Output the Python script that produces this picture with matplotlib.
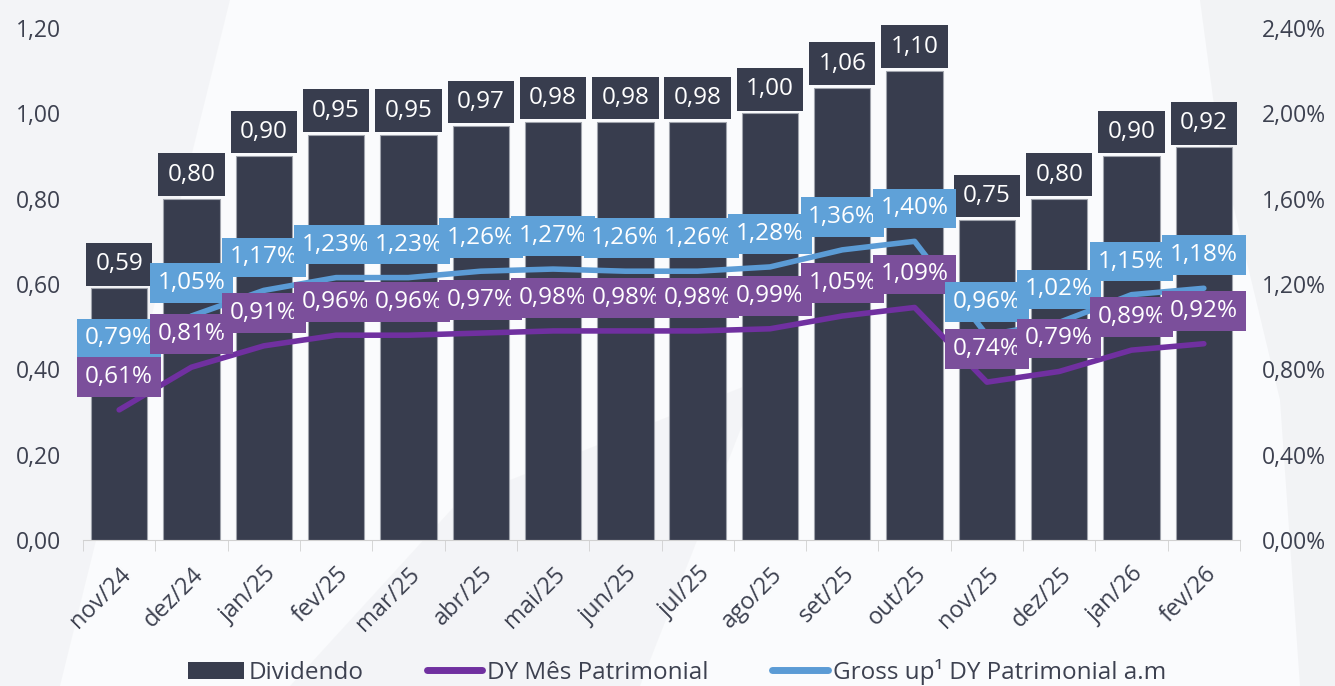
import matplotlib
matplotlib.use('Agg')
import matplotlib.pyplot as plt
from matplotlib.patches import Patch, Polygon
from matplotlib.lines import Line2D
from matplotlib.ticker import FuncFormatter

meses = ['nov/24', 'dez/24', 'jan/25', 'fev/25', 'mar/25', 'abr/25', 'mai/25', 'jun/25',
         'jul/25', 'ago/25', 'set/25', 'out/25', 'nov/25', 'dez/25', 'jan/26', 'fev/26']
dividendo = [0.59, 0.80, 0.90, 0.95, 0.95, 0.97, 0.98, 0.98, 0.98, 1.00, 1.06, 1.10, 0.75, 0.80, 0.90, 0.92]
dy_mes = [0.61, 0.81, 0.91, 0.96, 0.96, 0.97, 0.98, 0.98, 0.98, 0.99, 1.05, 1.09, 0.74, 0.79, 0.89, 0.92]
gross_up = [0.79, 1.05, 1.17, 1.23, 1.23, 1.26, 1.27, 1.26, 1.26, 1.28, 1.36, 1.40, 0.96, 1.02, 1.15, 1.18]

BAR = '#383d4e'
PURPLE = '#7030a0'
PURPLE_BOX = '#7b4f9b'
BLUE = '#5b9bd5'
BLUE_BOX = '#5fa1d8'
TXT = '#3d4150'

plt.rcParams['font.family'] = ['Open Sans', 'DejaVu Sans']

fig = plt.figure(figsize=(13.35, 6.86), dpi=100)
fig.patch.set_facecolor('#fafbfd')

# faint background swooshes
bg = fig.add_axes([0, 0, 1, 1], zorder=-10)
bg.set_xlim(0, 1335); bg.set_ylim(686, 0); bg.axis('off')
for pts, a in [([(0, 0), (230, 0), (60, 686), (0, 686)], 0.3),
               ([(290, 686), (460, 500), (760, 380), (640, 686)], 0.3),
               ([(1200, 0), (1335, 0), (1335, 686), (1300, 686), (1280, 400), (1220, 150)], 0.4)]:
    bg.add_patch(Polygon(pts, closed=True, facecolor='#e6e7ea', edgecolor='none', alpha=a))

ax = fig.add_axes([83 / 1335, 146 / 686, 1157 / 1335, 512 / 686])
ax.patch.set_alpha(0)
x = list(range(len(meses)))

ax.bar(x, dividendo, width=0.78, color=BAR, edgecolor='#a0a4ad', linewidth=0.8, zorder=2)
ax.set_xlim(-0.5, len(meses) - 0.5)
ax.set_ylim(0, 1.2)
ax.set_yticks([0, 0.2, 0.4, 0.6, 0.8, 1.0, 1.2])
ax.yaxis.set_major_formatter(FuncFormatter(lambda v, p: f'{v:.2f}'.replace('.', ',')))
ax.set_xticks(x)
ax.set_xticklabels(meses, rotation=45, ha='right', rotation_mode='anchor', fontsize=17, color=TXT)
ax.set_xticks([i - 0.5 for i in range(len(meses) + 1)], minor=True)
ax.tick_params(axis='x', which='major', length=0, pad=16)
ax.tick_params(axis='x', which='minor', length=8, color='#d0d0d0')
ax.tick_params(axis='y', length=0, labelsize=16.5, labelcolor=TXT, pad=16)
for s in ['top', 'left', 'right']:
    ax.spines[s].set_visible(False)
ax.spines['bottom'].set_color('#d0d0d0')

ax2 = ax.twinx()
ax2.set_ylim(0, 2.4)
ax2.set_yticks([0, 0.4, 0.8, 1.2, 1.6, 2.0, 2.4])
ax2.yaxis.set_major_formatter(FuncFormatter(lambda v, p: f'{v:.2f}%'.replace('.', ',')))
ax2.tick_params(axis='y', length=0, labelsize=16.5, labelcolor=TXT, pad=16)
for s in ['top', 'left', 'right', 'bottom']:
    ax2.spines[s].set_visible(False)

ax2.plot(x, gross_up, color=BLUE, lw=4, solid_capstyle='round', zorder=3)
ax2.plot(x, dy_mes, color=PURPLE, lw=4, solid_capstyle='round', zorder=3)

for i, v in enumerate(dividendo):
    ax.annotate(f'{v:.2f}'.replace('.', ','), (i, v), xytext=(0, 24), textcoords='offset pixels',
                ha='center', va='center', fontsize=17.5, color='white', zorder=5,
                bbox=dict(boxstyle='square,pad=0.38', fc=BAR, ec='none'))

for i in x:
    ax2.annotate(f'{gross_up[i]:.2f}%'.replace('.', ','), (i, gross_up[i]), xytext=(0, 33),
                 textcoords='offset pixels', ha='center', va='center', fontsize=17.5, color='white',
                 zorder=5, bbox=dict(boxstyle='square,pad=0.32', fc=BLUE_BOX, ec='none'))
    ax2.annotate(f'{dy_mes[i]:.2f}%'.replace('.', ','), (i, dy_mes[i]), xytext=(0, 33),
                 textcoords='offset pixels', ha='center', va='center', fontsize=17.5, color='white',
                 zorder=5, bbox=dict(boxstyle='square,pad=0.32', fc=PURPLE_BOX, ec='none'))

handles = [Patch(facecolor=BAR, edgecolor='none', label='Dividendo'),
           Line2D([0], [0], color=PURPLE, lw=5, solid_capstyle='round', label='DY Mês Patrimonial'),
           Line2D([0], [0], color=BLUE, lw=5, solid_capstyle='round', label='Gross up¹ DY Patrimonial a.m')]
leg = fig.legend(handles=handles, loc='lower center', bbox_to_anchor=(0.507, -0.03), ncol=3,
                 frameon=False, fontsize=17.5, handlelength=2.3, handletextpad=0.2, columnspacing=2.6)
for t in leg.get_texts():
    t.set_color(TXT)

fig.savefig('out.png', dpi=100, facecolor=fig.get_facecolor())
